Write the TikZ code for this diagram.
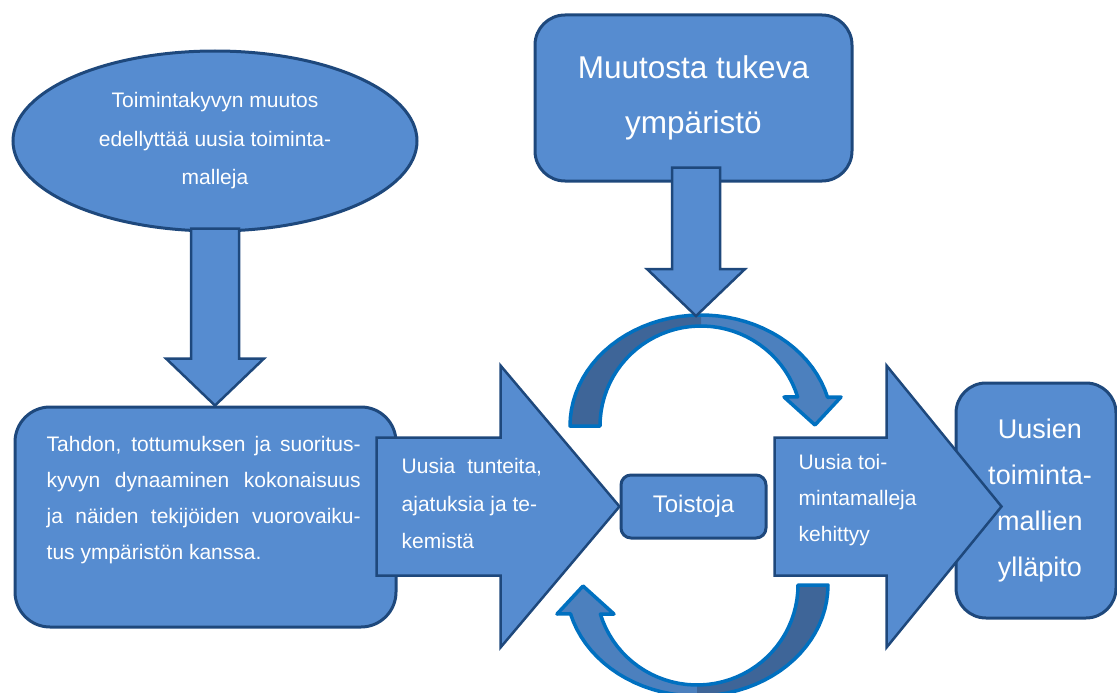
\documentclass[tikz,border=0pt]{standalone}
\usepackage{fontspec}
\setmainfont{Liberation Sans}
\usetikzlibrary{positioning,calc,shapes.geometric}

\definecolor{boxfill}{RGB}{86,140,208}
\definecolor{boxedge}{RGB}{30,72,124}
\definecolor{ringline}{RGB}{0,112,192}
\definecolor{ringfront}{RGB}{76,128,190}
\definecolor{ringback}{RGB}{62,101,152}

\tikzset{
  panel/.style={draw=boxedge, line width=3pt, fill=boxfill, text=white},
  blockarrow/.style={draw=boxedge, line width=2.5pt, fill=boxfill, line join=miter},
  ringarrow/.style={draw=ringline, line width=3.5pt, line join=round},
  caption/.style={text=white, inner sep=0pt},
}

\begin{document}
\begin{tikzpicture}[x=1pt, y=-1pt]
  \useasboundingbox (0,0) rectangle (1117,693);

  % boxes
  \node[panel, ellipse, minimum width=404pt, minimum height=180pt, inner sep=2pt,
        align=center, font=\fontsize{21}{38.5}\selectfont] (muutos) at (215,141)
        {Toimintakyvyn muutos\\edellyttää uusia toiminta-\\malleja};
  \node[panel, rounded corners=35pt, minimum width=381pt, minimum height=220pt] (tahto) at (205.5,517) {};
  \node[panel, rounded corners=30pt, minimum width=317pt, minimum height=166pt,
        align=center, font=\fontsize{31.5}{55}\selectfont] (ymparisto) at (693.5,98)
        {Muutosta tukeva\\ympäristö};
  \node[panel, rounded corners=10pt, minimum width=145pt, minimum height=63pt,
        font=\fontsize{24}{28}\selectfont] (toistoja) at (693.5,506.5) {Toistoja};
  \node[panel, rounded corners=30pt, minimum width=160pt, minimum height=235pt,
        align=center, font=\fontsize{27}{46.3}\selectfont] (yllapito) at (1036,500.5)
        {\hspace*{8pt}Uusien\\\hspace*{8pt}toiminta-\\\hspace*{8pt}mallien\\\hspace*{8pt}ylläpito};

  \node[caption, text width=314pt, align=justify, anchor=north west,
        font=\fontsize{21}{36}\selectfont] (tahtoteksti) at ($(tahto.north west)+(33,31)$)
        {Tahdon, tottumuksen ja suoritus-\linebreak kyvyn dynaaminen kokonaisuus\linebreak
         ja näiden tekijöiden vuorovaiku-\linebreak tus ympäristön kanssa.};

  % curved arrows round Toistoja
  \coordinate (ringtop) at (696,316);
  \foreach \turn in {0,180} {
    \begin{scope}[rotate around={\turn:(699,505.5)}]
      \def\ringpath{(570,426) -- plot[domain=180:345, samples=40] ({701+131*cos(\x)},{426+111*sin(\x)})
        -- (841,397) -- (815,425) -- (784,397)
        -- plot[domain=343.1:180, samples=40] ({701+101*cos(\x)},{426+100*sin(\x)}) -- cycle}
      \fill[ringfront] \ringpath;
      \fill[ringback] plot[domain=180:270, samples=25] ({701+131*cos(\x)},{426+111*sin(\x)})
        -- plot[domain=270:180, samples=25] ({701+101*cos(\x)},{426+100*sin(\x)}) -- cycle;
      \draw[ringarrow] \ringpath;
    \end{scope}
  }

  % block arrows
  \coordinate (d1tail) at ($(muutos.south)+(0,-4)$);
  \coordinate (d1tip) at (muutos.south |- tahto.north);
  \coordinate (d2tail) at ($(ringtop |- ymparisto.south)+(0,-15)$);
  \coordinate (d2tip) at (ringtop);
  \foreach \tail/\tip in {d1tail/d1tip, d2tail/d2tip}
    \draw[blockarrow] ($(\tail)+(-24,0)$) -- ($(\tip)+(-24,-47)$) -- ($(\tip)+(-49,-47)$)
      -- (\tip) -- ($(\tip)+(49,-47)$) -- ($(\tip)+(24,-47)$) -- ($(\tail)+(24,0)$) -- cycle;

  \coordinate (h1tip) at (toistoja.west);
  \coordinate (h1tail) at ($(h1tip)+(-243,0)$);
  \coordinate (h2tail) at ($(toistoja.east)+(7,0)$);
  \coordinate (h2tip) at ($(h2tail)+(227,0)$);
  \foreach \tail/\tip/\len in {h1tail/h1tip/119, h2tail/h2tip/115}
    \draw[blockarrow] ($(\tail)+(0,-69)$) -- ($(\tip)+(-\len,-69)$) -- ($(\tip)+(-\len,-141)$)
      -- (\tip) -- ($(\tip)+(-\len,141)$) -- ($(\tip)+(-\len,69)$) -- ($(\tail)+(0,69)$) -- cycle;

  \node[caption, align=left, anchor=west, font=\fontsize{21}{37.5}\selectfont] (tunteet)
    at ($(h1tail)+(25,-3)$) {Uusia\hspace{12pt}tunteita,\\ajatuksia ja te-\\kemistä};
  \node[caption, align=left, anchor=west, font=\fontsize{21}{36}\selectfont] (kehitys)
    at ($(h2tail)+(24,-6.5)$) {Uusia toi-\\mintamalleja\\kehittyy};
\end{tikzpicture}
\end{document}
